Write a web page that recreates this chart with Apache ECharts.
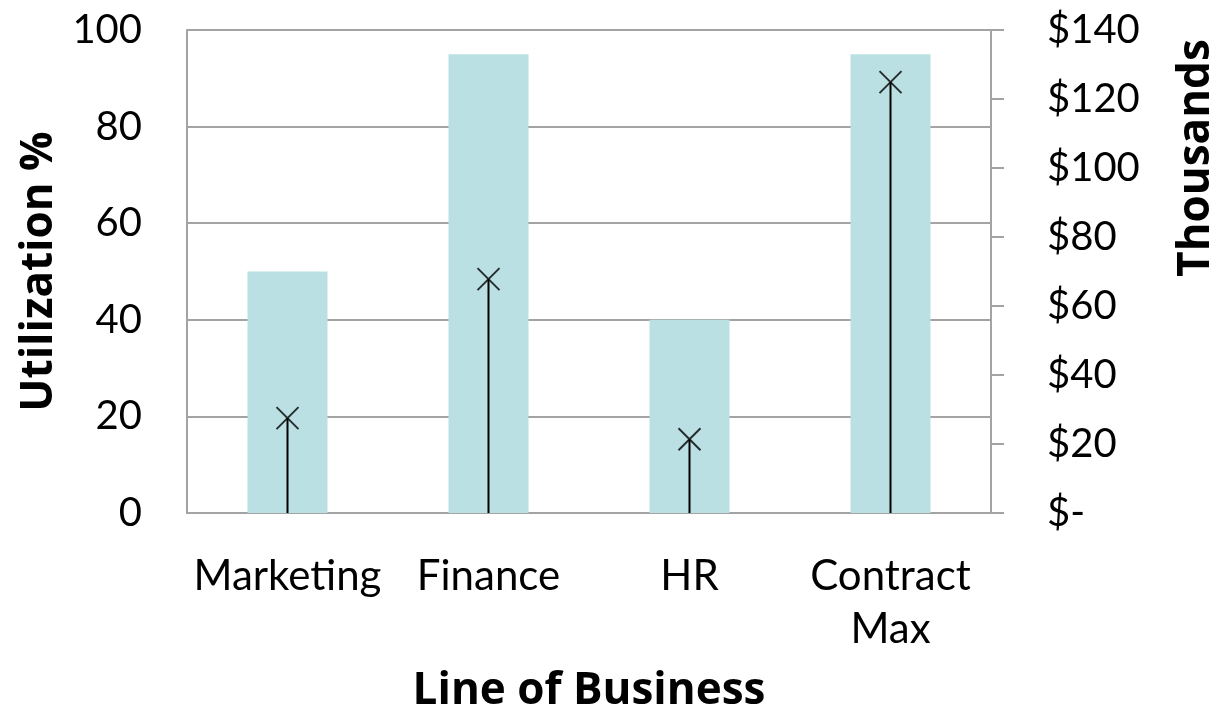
<!DOCTYPE html>
<html>
<head>
<meta charset="utf-8">
<script src="https://cdn.jsdelivr.net/npm/echarts@6/dist/echarts.min.js"></script>
<style>html,body{margin:0;padding:0;background:#fff}#c{width:1230px;height:709px}</style>
</head>
<body>
<div id="c"></div>
<script>
const categories = ['Marketing', 'Finance', 'HR', 'Contract\nMax'];
const utilization = [50, 95, 40, 95];
const costThousands = [27.5, 67.8, 21.4, 124.9];
const leftTicks = [0, 20, 40, 60, 80, 100];
const rightTicks = [0, 20, 40, 60, 80, 100, 120, 140];

const chart = echarts.init(document.getElementById('c'), null, {renderer: 'canvas'});
const gray = '#a3a3a3';
const labelFont = 'Lato, "Gill Sans", sans-serif';
const titleFont = '"Open Sans", sans-serif';

chart.setOption({
  animation: false,
  backgroundColor: '#fff',
  grid: {left: 187, right: 239, top: 30, bottom: 196, containLabel: false, outerBoundsMode: 'none'},
  xAxis: [{
    type: 'category',
    data: categories,
    name: 'Line of Business',
    nameLocation: 'middle',
    nameGap: 156,
    nameTextStyle: {fontFamily: titleFont, fontWeight: 'bold', fontSize: 44, color: '#000'},
    axisLine: {show: true, lineStyle: {color: gray, width: 2}},
    axisTick: {show: false},
    axisLabel: {interval: 0, margin: 37, fontFamily: labelFont, fontSize: 42, color: '#000', lineHeight: 53}
  }, {
    type: 'category',
    data: categories,
    show: false
  }],
  yAxis: [{
    type: 'value',
    min: leftTicks[0],
    max: leftTicks[leftTicks.length - 1],
    interval: 20,
    name: 'Utilization %',
    nameLocation: 'middle',
    nameGap: 126,
    nameRotate: 90,
    nameTextStyle: {fontFamily: titleFont, fontWeight: 'bold', fontSize: 44, color: '#000'},
    axisLine: {show: true, lineStyle: {color: gray, width: 2}},
    axisTick: {show: false},
    splitLine: {show: true, lineStyle: {color: gray, width: 2}},
    axisLabel: {margin: 45, fontFamily: labelFont, fontSize: 40, color: '#000'}
  }, {
    type: 'value',
    position: 'right',
    min: rightTicks[0],
    max: rightTicks[rightTicks.length - 1],
    interval: 20,
    axisLine: {show: true, lineStyle: {color: gray, width: 2}},
    axisTick: {show: true, length: 13, lineStyle: {color: gray, width: 2}},
    splitLine: {show: false},
    axisLabel: {
      margin: 56, fontFamily: labelFont, fontSize: 40, color: '#000',
      formatter: v => v === 0 ? '$-' : '$' + v
    }
  }],
  graphic: [{
    type: 'text',
    x: 1196, y: 158,
    rotation: Math.PI / 2,
    style: {
      text: 'Thousands',
      fontFamily: titleFont, fontWeight: 'bold', fontSize: 44, fill: '#000',
      textAlign: 'center', textVerticalAlign: 'middle'
    }
  }],
  series: [{
    type: 'bar',
    name: 'Utilization %',
    data: utilization,
    xAxisIndex: 0,
    yAxisIndex: 0,
    barWidth: 80,
    itemStyle: {color: '#bae0e3'},
    z: 1
  }, {
    type: 'bar',
    name: 'Cost line',
    data: costThousands,
    xAxisIndex: 1,
    yAxisIndex: 1,
    barWidth: 2,
    itemStyle: {color: '#000'},
    z: 3
  }, {
    type: 'scatter',
    name: 'Cost',
    data: costThousands,
    xAxisIndex: 1,
    yAxisIndex: 1,
    symbol: 'path://M0,0L10,10M10,0L0,10',
    symbolSize: 22,
    itemStyle: {color: 'none', borderColor: '#000', borderWidth: 2},
    z: 4
  }]
});
</script>
</body>
</html>
